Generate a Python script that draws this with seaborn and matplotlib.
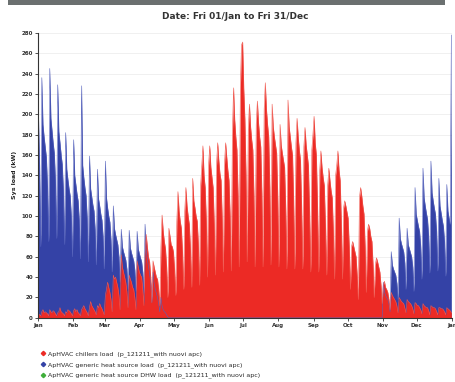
import numpy as np
import pandas as pd
import matplotlib.pyplot as plt
import matplotlib.dates as mdates
from matplotlib.lines import Line2D
from matplotlib.patches import Rectangle
import seaborn as sns

# --- data: daily peak loads (kW), rows are weeks Mon..Sun ---
year_start = '2010-01-01'  # Fri 01/Jan

# generic heat source, 1 Jan .. 25 Apr (zero afterwards until November)
heat_spring = [
    200, 150, 70,
    236, 190, 178, 168, 158, 130, 75,
    245, 196, 184, 172, 162, 135, 78,
    229, 183, 172, 160, 151, 126, 72,
    182, 146, 136, 127, 120, 100, 60,
    175, 140, 131, 122, 115, 96, 58,
    228, 150, 138, 128, 120, 98, 55,
    159, 127, 119, 111, 105, 87, 52,
    146, 117, 110, 102, 96, 80, 48,
    154, 118, 108, 100, 94, 76, 45,
    110, 88, 82, 77, 72, 60, 35,
    87, 70, 65, 61, 57, 48, 28,
    86, 69, 64, 60, 56, 47, 26,
    85, 68, 63, 59, 55, 45, 24,
    92, 66, 58, 50, 44, 34, 15,
    45, 34, 28, 24, 20, 14, 6,
    20, 12, 8, 6, 5, 3, 1,
]
# generic heat source, 1 Nov .. 31 Dec
heat_autumn = [
    35, 26, 22, 20, 18, 14, 6,
    65, 52, 48, 45, 42, 34, 18,
    98, 78, 73, 69, 65, 54, 28,
    88, 72, 68, 64, 60, 50, 26,
    128, 102, 96, 90, 85, 70, 38,
    147, 118, 110, 103, 97, 80, 44,
    154, 123, 115, 108, 102, 85, 46,
    137, 110, 103, 96, 90, 75, 41,
    131, 105, 98, 92, 278,
]
# chillers, whole year
cool = [
    4, 3, 2,
    6, 8, 5, 6, 5, 4, 2,
    8, 6, 5, 7, 6, 4, 2,
    5, 6, 10, 6, 5, 4, 2,
    6, 5, 8, 7, 6, 4, 2,
    7, 9, 6, 8, 5, 4, 2,
    8, 10, 12, 9, 7, 5, 2,
    10, 16, 12, 10, 8, 6, 3,
    12, 10, 14, 11, 9, 6, 3,
    22, 28, 35, 30, 25, 18, 6,
    42, 38, 40, 35, 30, 22, 8,
    62, 50, 45, 40, 35, 26, 10,
    42, 38, 35, 30, 28, 20, 8,
    56, 50, 45, 42, 40, 28, 12,
    62, 82, 70, 60, 55, 40, 15,
    56, 50, 45, 40, 38, 28, 12,
    70, 101, 85, 75, 68, 50, 20,
    88, 80, 72, 70, 65, 48, 22,
    95, 124, 105, 95, 88, 65, 28,
    105, 128, 110, 100, 92, 68, 30,
    137, 115, 108, 100, 95, 72, 32,
    130, 150, 169, 140, 128, 95, 40,
    150, 169, 148, 138, 128, 92, 42,
    150, 172, 155, 142, 135, 98, 45,
    150, 172, 158, 145, 135, 100, 46,
    180, 226, 195, 178, 165, 120, 50,
    225, 268, 271, 225, 195, 140, 55,
    185, 210, 188, 175, 165, 120, 50,
    190, 213, 192, 178, 168, 122, 50,
    205, 231, 205, 190, 178, 128, 52,
    210, 188, 178, 170, 162, 118, 50,
    190, 170, 162, 155, 148, 108, 48,
    214, 188, 178, 168, 160, 115, 48,
    172, 196, 178, 165, 155, 110, 48,
    168, 187, 170, 160, 150, 105, 45,
    165, 180, 198, 172, 160, 112, 45,
    145, 164, 148, 138, 130, 92, 42,
    130, 147, 135, 125, 118, 85, 38,
    140, 150, 164, 145, 135, 95, 38,
    108, 115, 110, 104, 98, 70, 28,
    70, 75, 70, 65, 60, 42, 18,
    118, 128, 120, 110, 102, 70, 25,
    85, 92, 88, 80, 75, 52, 20,
    52, 59, 55, 50, 45, 32, 14,
    32, 36, 30, 28, 25, 18, 8,
    25, 22, 20, 18, 16, 12, 5,
    20, 18, 16, 15, 14, 10, 5,
    18, 16, 15, 14, 12, 9, 4,
    15, 14, 12, 12, 10, 8, 4,
    14, 12, 11, 10, 10, 7, 3,
    12, 11, 10, 10, 9, 6, 3,
    10, 10, 9, 9, 8, 6, 3,
    10, 9, 8, 7, 5,
]

labels = [
    'ApHVAC chillers load  (p_121211_with nuovi apc)',
    'ApHVAC generic heat source load  (p_121211_with nuovi apc)',
    'ApHVAC generic heat source DHW load  (p_121211_with nuovi apc)',
]
colors = ['#ec2a25', '#3442a6', '#3fae3a']

# --- build the table ---
days = pd.date_range(year_start, periods=365) + pd.Timedelta(hours=12)
heat = np.zeros(365)
heat[:len(heat_spring)] = heat_spring
heat[365 - len(heat_autumn):] = heat_autumn
df = pd.DataFrame({'date': days, 'heat': heat, 'cool': cool})

# --- plot ---
sns.set_style('white')
fig = plt.figure(figsize=(4.56, 3.82), dpi=100)
ax = fig.add_axes([0.083, 0.168, 0.908, 0.746])

ax.fill_between(df['date'], df['heat'], color=colors[1], lw=0)
sns.lineplot(data=df, x='date', y='heat', color='#5562bd', lw=0.4, ax=ax)
ax.fill_between(df['date'], df['cool'], color=colors[0], lw=0)
sns.lineplot(data=df, x='date', y='cool', color='#f05a50', lw=0.4, ax=ax)

ax.set_xlim(pd.Timestamp('2010-01-01'), pd.Timestamp('2011-01-01'))
ax.set_ylim(0, 280)
ax.set_yticks(range(0, 281, 20))
ax.yaxis.grid(True, color='#eeeeee', lw=0.6)
ax.xaxis.set_major_locator(mdates.MonthLocator())
ax.xaxis.set_major_formatter(mdates.DateFormatter('%b'))
ax.tick_params(labelsize=4, length=2, width=0.6, pad=1.5, colors='#333333')
ax.tick_params(axis='both', which='both', direction='out', left=True, bottom=True)
for lab in ax.get_xticklabels() + ax.get_yticklabels():
    lab.set_fontweight('bold')
ax.set_xlabel('')
ax.set_ylabel('Sys load (kW)', fontsize=4.5, fontweight='bold', color='#222222', labelpad=3)
sns.despine(ax=ax)
for s in ('left', 'bottom'):
    ax.spines[s].set_color('#333333')
    ax.spines[s].set_linewidth(0.8)

# header band and title
fig.add_artist(Rectangle((8 / 456, 1 - 5 / 382), 437 / 456, 5 / 382,
                         transform=fig.transFigure, color='#6b7070', lw=0))
fig.text(0.515, 0.958, 'Date: Fri 01/Jan to Fri 31/Dec', ha='center', va='center',
         fontsize=6.5, fontweight='bold', color='#333333')

# legend
handles = [Line2D([], [], ls='', marker='D', ms=2.2, color=c) for c in colors]
fig.legend(handles, labels, loc='upper left', bbox_to_anchor=(0.085, 0.088),
           frameon=False, fontsize=4.5, handlelength=0.6, handletextpad=0.4,
           labelspacing=0.75, borderaxespad=0)

fig.savefig('out.png', dpi=100)
